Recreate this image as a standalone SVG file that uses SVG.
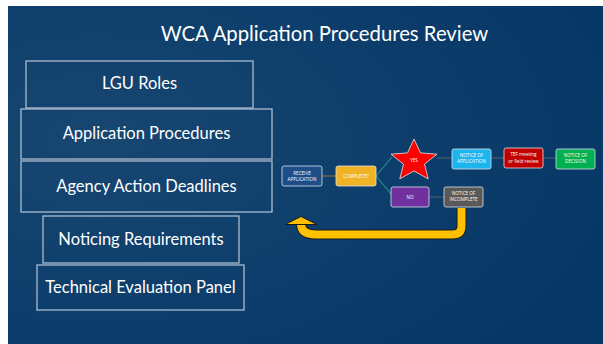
<svg xmlns="http://www.w3.org/2000/svg" width="603" height="344" viewBox="0 0 603 344">
<defs>
<radialGradient id="bg" cx="0.15" cy="0.4" r="0.9">
<stop offset="0" stop-color="#174671"/>
<stop offset="1" stop-color="#063766"/>
</radialGradient>
</defs>
<style>
.big{fill:none;stroke:#a9bcd0;stroke-width:1.3}
.bt{font-family:Lato,"Open Sans",sans-serif;font-size:16.5px;fill:#ffffff;text-anchor:middle}
.sm{stroke:#d9e2ec;stroke-width:0.8}
.st{font-family:"Open Sans","Liberation Sans",sans-serif;font-size:4.6px;fill:#ffffff;text-anchor:middle}
.ln{fill:none;stroke-width:1.2}
</style>
<rect x="8" y="6" width="595" height="338" fill="url(#bg)"/>
<text x="324.5" y="41" font-family="Lato,'Open Sans',sans-serif" font-size="20.3" fill="#ffffff" text-anchor="middle">WCA Application Procedures Review</text>

<g id="lgu-roles"><rect class="big" x="26" y="61" width="227" height="47"/><text class="bt" x="139.5" y="89">LGU Roles</text></g>
<g id="application-procedures"><rect class="big" x="21" y="109" width="251" height="50"/><text class="bt" x="146.5" y="139">Application Procedures</text></g>
<g id="agency-action-deadlines"><rect class="big" x="21" y="161" width="251" height="51"/><text class="bt" x="146.5" y="192">Agency Action Deadlines</text></g>
<g id="noticing-requirements"><rect class="big" x="43" y="216" width="196" height="47"/><text class="bt" x="141" y="245">Noticing Requirements</text></g>
<g id="technical-evaluation-panel"><rect class="big" x="37" y="265" width="207" height="45"/><text class="bt" x="140.5" y="293">Technical Evaluation Panel</text></g>

<g id="connectors">
<line class="ln" x1="322" y1="176" x2="336" y2="176" stroke="#7d7340"/>
<line class="ln" x1="376" y1="176" x2="392" y2="157" stroke="#1f7f86"/>
<line class="ln" x1="376" y1="176" x2="391" y2="194" stroke="#1f7f86"/>
<line class="ln" x1="437" y1="158" x2="452" y2="158" stroke="#4a5a68"/>
<line class="ln" x1="491" y1="158" x2="504" y2="158" stroke="#4a5a68"/>
<line class="ln" x1="543" y1="158" x2="556" y2="158" stroke="#4a5a68"/>
<line class="ln" x1="429" y1="197" x2="444" y2="197" stroke="#4a5a68"/>
<g id="return-arrow">
<path d="M461.5 208 L461.5 226 Q461.5 234.5 452 234.5 L316 234.5 Q301 234.5 301 224" fill="none" stroke="#1a1a1a" stroke-width="10"/>
<path d="M461.5 208 L461.5 226 Q461.5 234.5 452 234.5 L316 234.5 Q301 234.5 301 224" fill="none" stroke="#ffc000" stroke-width="8"/>
<polygon points="285,224.5 301,216.5 317,224.5" fill="#ffc000" stroke="#1a1a1a" stroke-width="1"/>
</g>
</g>

<g id="receive-application"><rect class="sm" x="282" y="166" width="40" height="20" rx="2" fill="#1f4e86"/><text class="st" x="302" y="174.5">RECEIVE</text><text class="st" x="302" y="180.5">APPLICATION</text></g>
<g id="complete"><rect class="sm" x="336" y="166" width="40" height="20" rx="2" fill="#f0b323"/><text class="st" x="356" y="177.8">COMPLETE?</text></g>
<g id="yes"><polygon points="414,139 420.5,152.9 437,154.2 424.5,164.1 428.2,178.8 414,171 399.8,178.8 403.5,164.1 391,154.2 407.5,152.9" fill="#ff0000" stroke="#e8e8e8" stroke-width="0.8"/><text class="st" x="414" y="162">YES</text></g>
<g id="no"><rect class="sm" x="391" y="187" width="38" height="20" rx="2" fill="#7030a0"/><text class="st" x="410" y="198.8">NO</text></g>
<g id="notice-of-application"><rect class="sm" x="452" y="149" width="39" height="20" rx="2" fill="#1eb4ee"/><text class="st" x="471.5" y="157">NOTICE OF</text><text class="st" x="471.5" y="163">APPLICATION</text></g>
<g id="tef-meeting"><rect class="sm" x="504" y="148" width="39" height="20" rx="2" fill="#c00000"/><text class="st" x="523.5" y="155.5">TEF meeting</text><text class="st" x="523.5" y="162.5">or field review</text></g>
<g id="notice-of-decision"><rect class="sm" x="556" y="149" width="39" height="20" rx="2" fill="#00b050"/><text class="st" x="575.5" y="156.5">NOTICE OF</text><text class="st" x="575.5" y="162.5">DECISION</text></g>
<g id="notice-of-incomplete"><rect class="sm" x="444" y="187" width="39" height="20" rx="2" fill="#595959"/><text class="st" x="463.5" y="194.5">NOTICE OF</text><text class="st" x="463.5" y="200.5">INCOMPLETE</text></g>
</svg>
